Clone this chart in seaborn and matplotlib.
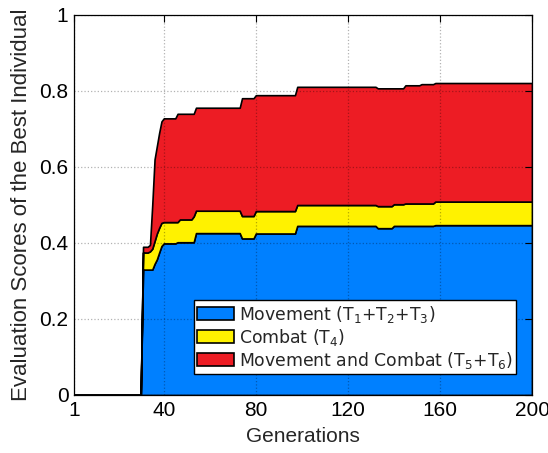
import numpy as np
import matplotlib
matplotlib.use("Agg")
import matplotlib.pyplot as plt
import seaborn as sns

# ---- data (step-wise values; each value holds until the next listed generation)
generations = np.arange(1, 201)

# top of "Movement" layer (blue)
mov_gens = [1, 31, 36, 37, 38, 39, 40, 46, 54, 74, 80, 98, 133, 140, 158]
mov_vals = [0, 0.330, 0.345, 0.357, 0.375, 0.392, 0.399, 0.402, 0.426, 0.412, 0.425, 0.445, 0.439, 0.445, 0.447]

# top of "Combat" layer (yellow) = movement + combat
comb_top_gens = [1, 31, 34, 35, 36, 37, 38, 39, 40, 47, 53, 54, 74, 80, 98, 133, 140, 145, 158]
comb_top_vals = [0, 0.375, 0.378, 0.385, 0.405, 0.425, 0.440, 0.453, 0.455, 0.462, 0.470, 0.485, 0.471, 0.484, 0.500, 0.497, 0.502, 0.504, 0.509]

# top of "Movement and Combat" layer (red) = total
total_gens = [1, 31, 34, 35, 36, 37, 38, 39, 40, 46, 54, 74, 80, 98, 133, 145, 152, 158]
total_vals = [0, 0.390, 0.395, 0.500, 0.620, 0.655, 0.690, 0.720, 0.728, 0.740, 0.756, 0.781, 0.789, 0.811, 0.807, 0.815, 0.818, 0.821]

labels = ["Movement (T$_1$+T$_2$+T$_3$)", "Combat (T$_4$)", "Movement and Combat (T$_5$+T$_6$)"]
colors = ["#0080FF", "#FFF200", "#ED1C24"]
x_ticks = [1, 40, 80, 120, 160, 200]
y_ticks = [0, 0.2, 0.4, 0.6, 0.8, 1]
y_tick_labels = ["0", "0.2", "0.4", "0.6", "0.8", "1"]


def steps(gens, vals):
    idx = np.searchsorted(np.array(gens), generations, side="right") - 1
    return np.array(vals)[idx]


movement = steps(mov_gens, mov_vals)
combat = steps(comb_top_gens, comb_top_vals) - movement
mov_and_combat = steps(total_gens, total_vals) - steps(comb_top_gens, comb_top_vals)

# ---- plot
sns.set_theme(style="white")
plt.rcParams["font.family"] = ["Liberation Sans", "DejaVu Sans"]

fig = plt.figure(figsize=(5.48, 4.53), dpi=100)
ax = fig.add_axes([74 / 548, 1 - 395 / 453, 458 / 548, 380 / 453])

ax.stackplot(generations, movement, combat, mov_and_combat,
             colors=colors, labels=labels, edgecolor="black", linewidth=1.2)

ax.set_xlim(1, 200)
ax.set_ylim(0, 1)
ax.set_xticks(x_ticks)
ax.set_xticklabels([str(t) for t in x_ticks])
ax.set_yticks(y_ticks)
ax.set_yticklabels(y_tick_labels)
ax.tick_params(direction="in", top=True, right=True, length=5, width=0.8,
               labelsize=15, colors="black", pad=4)
ax.set_xlabel("Generations", fontsize=15, labelpad=5)
ax.set_ylabel("Evaluation Scores of the Best Individual", fontsize=16, labelpad=5)

ax.set_axisbelow(False)
ax.grid(True, linestyle=":", color="black", alpha=0.3, linewidth=0.9)
for s in ax.spines.values():
    s.set_color("black")
    s.set_linewidth(0.9)

leg = ax.legend(loc="lower left", bbox_to_anchor=(0.262, 0.055),
                frameon=True, fancybox=False, edgecolor="black", framealpha=1,
                borderpad=0.2, labelspacing=0.12, handlelength=2.1,
                handleheight=0.8, handletextpad=0.3, borderaxespad=0,
                prop={"family": ["DejaVu Sans"], "size": 12.4})
leg.get_frame().set_linewidth(1.0)

fig.savefig("out.png", dpi=100)
